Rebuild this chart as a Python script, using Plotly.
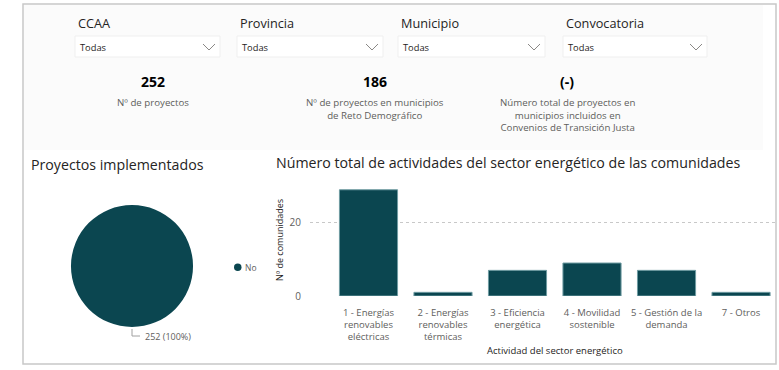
import plotly.graph_objects as go

W, H = 779, 370

# ---- data ----
slicer_names = ["CCAA", "Provincia", "Municipio", "Convocatoria"]
slicer_values = ["Todas", "Todas", "Todas", "Todas"]
kpi_values = ["252", "186", "(-)"]
kpi_labels = [
    "Nº de proyectos",
    "Nº de proyectos en municipios<br>de Reto Demográfico",
    "Número total de proyectos en<br>municipios incluidos en<br>Convenios de Transición Justa",
]
pie_labels = ["No"]
pie_values = [252]
bar_categories = [
    "1 - Energías<br>renovables<br>eléctricas",
    "2 - Energías<br>renovables<br>térmicas",
    "3 - Eficiencia<br>energética",
    "4 - Movilidad<br>sostenible",
    "5 - Gestión de la<br>demanda",
    "7 - Otros",
]
bar_values = [29, 1, 7, 9, 7, 1]
y_ticks = [0, 20]

FONT = "Segoe UI, Open Sans, sans-serif"
DARK = "#252423"
GRAY = "#605E5C"
TEAL = "#0B4650"


def px(x):
    return x / W


def py(y):
    return 1 - y / H


fig = go.Figure()

# pie
fig.add_trace(go.Pie(
    labels=pie_labels, values=pie_values,
    domain=dict(x=[px(71), px(193)], y=[py(327), py(205)]),
    marker=dict(colors=[TEAL], line=dict(width=0)),
    textinfo="none", sort=False, showlegend=False, hoverinfo="label+value+percent",
))

# bars
fig.add_trace(go.Bar(
    x=list(range(len(bar_categories))), y=bar_values,
    width=0.78,
    marker=dict(color=TEAL, line=dict(color="#6F9CA2", width=1)),
    showlegend=False,
))

fig.update_layout(
    width=W, height=H, autosize=False,
    margin=dict(l=0, r=0, t=0, b=0, pad=0),
    paper_bgcolor="white", plot_bgcolor="rgba(0,0,0,0)",
    font=dict(family=FONT, color=DARK),
    xaxis=dict(
        domain=[px(310), px(775)], range=[-0.785, 5.456], automargin=False,
        tickmode="array", tickvals=list(range(len(bar_categories))), ticktext=bar_categories,
        tickfont=dict(size=9.5, color=GRAY), showgrid=False, zeroline=False, showline=False,
        ticks="", ticklabelstandoff=9,
    ),
    yaxis=dict(
        domain=[py(296), py(185)], range=[0, 30.3], automargin=False,
        tickvals=y_ticks, tickfont=dict(size=10, color=GRAY),
        showgrid=True, gridcolor="#C8C8C8", griddash="dot", gridwidth=1,
        zeroline=False, showline=False, ticks="", ticklabelstandoff=8,
    ),
    showlegend=False,
)

shapes = []
ann = []

# top panel faint background + frame
shapes.append(dict(type="rect", xref="paper", yref="paper", x0=px(24), x1=px(763), y0=py(150), y1=py(5),
                   fillcolor="#FBFBFB", line=dict(width=0), layer="below"))
shapes.append(dict(type="rect", xref="paper", yref="paper", x0=px(23), x1=px(776), y0=py(364), y1=py(4),
                   line=dict(color="#C8C8C8", width=1.5), layer="below"))

# slicers
slicer_x = [(75, 220), (237, 383), (398, 545), (563, 707)]
for name, val, (x0, x1) in zip(slicer_names, slicer_values, slicer_x):
    ann.append(dict(text=name, x=px(x0 + 1), y=py(23), xanchor="left", yanchor="middle",
                    font=dict(size=12.7, color=DARK)))
    shapes.append(dict(type="rect", xref="paper", yref="paper", x0=px(x0), x1=px(x1), y0=py(57), y1=py(36),
                       fillcolor="white", line=dict(color="#EFEFEF", width=1), layer="below"))
    ann.append(dict(text=val, x=px(x0 + 3), y=py(47.5), xanchor="left", yanchor="middle",
                    font=dict(size=9.3, color=DARK)))
    cx = x1 - 11
    shapes.append(dict(type="path", xref="paper", yref="paper",
                       path=f"M {px(cx-6)},{py(44)} L {px(cx)},{py(50)} L {px(cx+6)},{py(44)}",
                       line=dict(color="#8A8886", width=1)))

# KPI cards
kpi_x = [153, 375, 567]
for v, lab, x in zip(kpi_values, kpi_labels, kpi_x):
    ann.append(dict(text=f"<b>{v}</b>", x=px(x), y=py(81), xanchor="center", yanchor="middle",
                    font=dict(size=14, color="#000000")))
    ann.append(dict(text=lab, x=px(x), y=py(94), xanchor="center", yanchor="top",
                    font=dict(size=9.7, color=GRAY), align="center"))

# titles
ann.append(dict(text="Proyectos implementados", x=px(29), y=py(164.5), xanchor="left", yanchor="middle",
                font=dict(size=14.2, color=DARK)))
ann.append(dict(text="Número total de actividades del sector energético de las comunidades",
                x=px(274), y=py(163), xanchor="left", yanchor="middle",
                font=dict(size=14.2, color=DARK)))

# pie legend (circle marker + label)
shapes.append(dict(type="circle", xref="paper", yref="paper", x0=px(234), x1=px(241.5), y0=py(271), y1=py(263.5),
                   fillcolor=TEAL, line=dict(width=0)))
ann.append(dict(text=pie_labels[0], x=px(243), y=py(267.5),
                xanchor="left", yanchor="middle", font=dict(size=8.5, color=GRAY)))

# pie data label with leader
total = sum(pie_values)
ann.append(dict(text=f"{pie_values[0]} ({pie_values[0] / total:.0%})", x=px(143), y=py(336),
                xanchor="left", yanchor="middle", font=dict(size=9, color=GRAY)))
shapes.append(dict(type="path", xref="paper", yref="paper",
                   path=f"M {px(132)},{py(329)} L {px(132)},{py(336)} L {px(140)},{py(336)}",
                   line=dict(color="#A0A0A0", width=1)))

# axis titles
ann.append(dict(text="Actividad del sector energético", x=px(555), y=py(350), xanchor="center", yanchor="middle",
                font=dict(size=9.5, color=DARK)))
ann.append(dict(text="Nº de comunidades", x=px(279), y=py(240), xanchor="center", yanchor="middle",
                textangle=-90, font=dict(size=9, color=DARK)))

for a in ann:
    a.setdefault("xref", "paper")
    a.setdefault("yref", "paper")
    a["showarrow"] = False

fig.update_layout(shapes=shapes, annotations=ann)
fig.write_html(
    "out.html",
    config=dict(displayModeBar=False, responsive=False),
    post_script="document.body.style.margin='0';document.body.style.overflow='hidden';",
)
